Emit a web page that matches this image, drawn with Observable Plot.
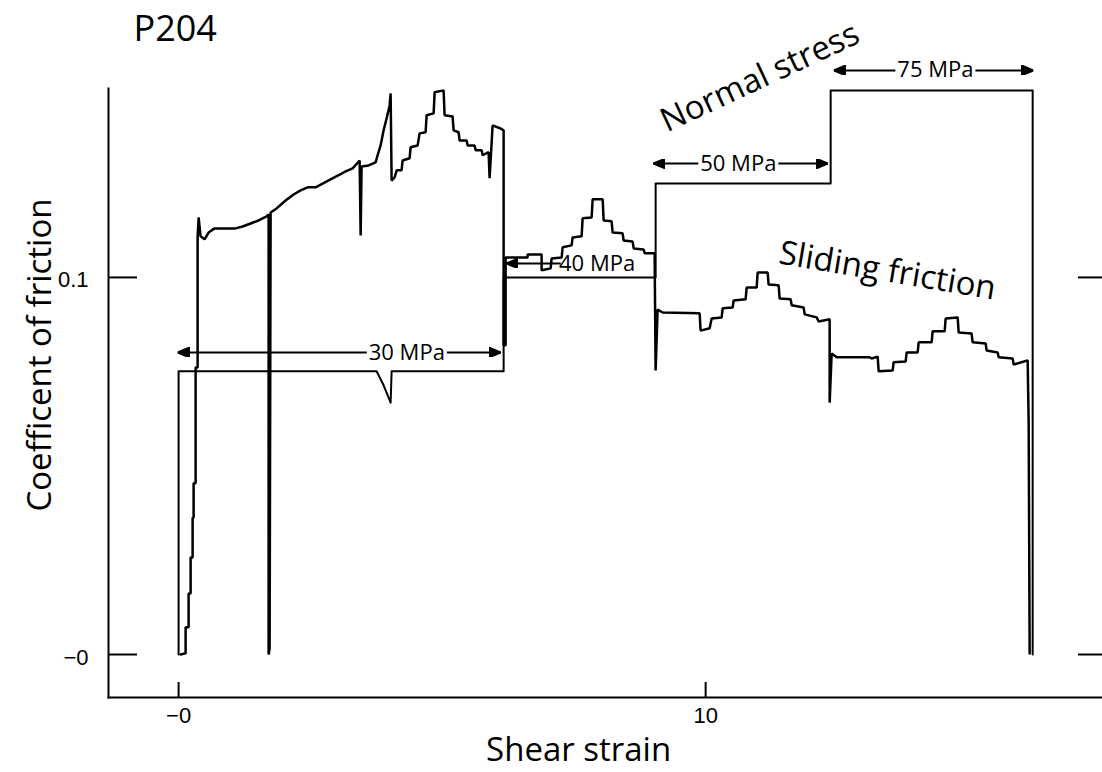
<!DOCTYPE html>
<html>
<head>
<meta charset="utf-8">
<script src="https://cdn.jsdelivr.net/npm/d3@7"></script>
<script src="https://cdn.jsdelivr.net/npm/@observablehq/plot@0.6"></script>
<style>
  html, body { margin: 0; padding: 0; background: #fff; }
  #chart { width: 1102px; height: 772px; }
</style>
</head>
<body>
<div id="chart"></div>
<script>
// Run P204: coefficient of friction against shear strain, with the applied normal stress steps.

// Sliding friction record
const frictionStrain = [
  0.038, 0.133, 0.133, 0.190, 0.190, 0.228, 0.228, 0.266, 0.266, 0.285, 0.285, 0.323, 0.323, 0.361, 0.361, 0.380,
  0.417, 0.493, 0.569, 0.683, 1.082, 1.214, 1.366, 1.518, 1.670, 1.708, 1.708, 1.727, 1.746, 1.860, 2.030, 2.182,
  2.315, 2.448, 2.600, 2.732, 2.884, 3.036, 3.169, 3.302, 3.435, 3.454, 3.472, 3.605, 3.738, 3.776, 3.833, 3.890,
  3.947, 4.004, 4.023, 4.042, 4.099, 4.137, 4.231, 4.250, 4.383, 4.402, 4.535, 4.573, 4.687, 4.706, 4.839, 4.858,
  5.028, 5.047, 5.199, 5.218, 5.313, 5.332, 5.465, 5.484, 5.617, 5.636, 5.750, 5.769, 5.882, 5.901, 5.958, 6.110,
  6.167, 6.167, 6.205, 6.205, 6.622, 6.622, 6.888, 6.888, 7.059, 7.078, 7.268, 7.287, 7.457, 7.476, 7.647, 7.666,
  7.837, 7.856, 8.046, 8.065, 8.216, 8.235, 8.425, 8.444, 8.615, 8.634, 8.824, 8.843, 9.032, 9.051, 9.089, 9.184,
  9.886, 9.905, 10.076, 10.114, 10.304, 10.323, 10.512, 10.531, 10.759, 10.778, 10.968, 10.987, 11.176, 11.195, 11.385, 11.404,
  11.613, 11.632, 11.860, 11.879, 12.106, 12.144, 12.353, 12.353, 12.391, 12.486, 13.112, 13.150, 13.264, 13.283, 13.548, 13.567,
  13.795, 13.814, 14.023, 14.042, 14.288, 14.307, 14.535, 14.554, 14.782, 14.801, 15.047, 15.066, 15.313, 15.332, 15.541, 15.560,
  15.825, 15.844, 16.110, 16.129, 16.148
];
const frictionCoef = [
  0.0000, 0.0003, 0.0072, 0.0072, 0.0162, 0.0162, 0.0257, 0.0257, 0.0363, 0.0363, 0.0454, 0.0454, 0.0761, 0.0761, 0.1106, 0.1159,
  0.1109, 0.1101, 0.1119, 0.1130, 0.1130, 0.1135, 0.1143, 0.1151, 0.1162, 0.1167, 0.0000, 0.0016, 0.1172, 0.1183, 0.1204, 0.1220,
  0.1231, 0.1239, 0.1239, 0.1249, 0.1260, 0.1271, 0.1281, 0.1289, 0.1310, 0.1111, 0.1294, 0.1297, 0.1305, 0.1324, 0.1350, 0.1390,
  0.1422, 0.1456, 0.1488, 0.1257, 0.1265, 0.1284, 0.1284, 0.1310, 0.1316, 0.1345, 0.1350, 0.1382, 0.1385, 0.1430, 0.1435, 0.1491,
  0.1496, 0.1430, 0.1427, 0.1390, 0.1385, 0.1363, 0.1363, 0.1350, 0.1350, 0.1337, 0.1337, 0.1324, 0.1332, 0.1263, 0.1403, 0.1395,
  0.1390, 0.0820, 0.0820, 0.1053, 0.1053, 0.1061, 0.1061, 0.1019, 0.1024, 0.1050, 0.1053, 0.1080, 0.1085, 0.1106, 0.1109, 0.1157,
  0.1159, 0.1207, 0.1207, 0.1151, 0.1149, 0.1119, 0.1117, 0.1098, 0.1095, 0.1077, 0.1074, 0.1064, 0.1064, 0.0753, 0.0915, 0.0907,
  0.0905, 0.0859, 0.0865, 0.0891, 0.0894, 0.0918, 0.0920, 0.0939, 0.0942, 0.0973, 0.0973, 0.1013, 0.1013, 0.0981, 0.0979, 0.0944,
  0.0942, 0.0926, 0.0920, 0.0902, 0.0894, 0.0883, 0.0889, 0.0668, 0.0798, 0.0788, 0.0788, 0.0785, 0.0790, 0.0751, 0.0753, 0.0775,
  0.0777, 0.0801, 0.0801, 0.0828, 0.0828, 0.0857, 0.0857, 0.0891, 0.0894, 0.0854, 0.0851, 0.0828, 0.0825, 0.0806, 0.0801, 0.0788,
  0.0785, 0.0769, 0.0780, 0.0613, 0.0003
];

// Normal stress steps (scaled onto the friction axis)
const stressStrain = [0, 0, 3.757, 3.890, 4.023, 4.042, 6.167, 6.167, 9.051, 9.051, 12.372, 12.372, 16.205, 16.205];
const stressLevel  = [0, 0.0751, 0.0751, 0.0714, 0.0668, 0.0751, 0.0751, 0.1000, 0.1000, 0.1249, 0.1249, 0.1496, 0.1496, 0];

// Stress step annotations
const stressLabels  = ["30 MPa", "40 MPa", "50 MPa", "75 MPa"];
const arrowFrom     = [-0.02, 6.22, 9.01, 12.43];
const arrowTo       = [6.11, 7.25, 12.32, 16.22];
const arrowLevel    = [0.0801, 0.1037, 0.1302, 0.1549];
const labelStrain   = [4.33, 7.94, 10.62, 14.36];
const arrowBothEnds = [true, false, true, true];

// Axis ticks
const xTicks = [0, 10];
const xTickLabels = ["−0", "10"];
const yTicks = [0, 0.1];
const yTickLabels = ["−0", "0.1"];

const friction = frictionStrain.map((s, i) => ({strain: s, mu: frictionCoef[i]}));
const stress = stressStrain.map((s, i) => ({strain: s, mu: stressLevel[i]}));

const W = 1102, H = 772;
const mL = 108, mR = 0, mT = 88, mB = 75;
const frameW = W - mL - mR, frameH = H - mT - mB;
const xDomain = [-1.33, 17.53];
const yDomain = [-0.0114, 0.1501];
const strainPerPx = (xDomain[1] - xDomain[0]) / frameW;
const labelGap = 40 * strainPerPx; // half-width of the break in an arrow around its label

// Each arrow is split around its label; one-sided arrows end before the label
const arrowSegments = [];
stressLabels.forEach((label, i) => {
  if (arrowBothEnds[i]) {
    arrowSegments.push({x1: arrowFrom[i], x2: labelStrain[i] - labelGap, y: arrowLevel[i], head: "start"});
    arrowSegments.push({x1: labelStrain[i] + labelGap, x2: arrowTo[i], y: arrowLevel[i], head: "end"});
  } else {
    arrowSegments.push({x1: arrowFrom[i], x2: arrowTo[i], y: arrowLevel[i], head: "start"});
  }
});
const arrowLabels = stressLabels.map((label, i) => ({label, x: labelStrain[i], y: arrowLevel[i]}));

// Solid triangular arrowhead marker
function solidHead(orient) {
  return (color, context) => {
    const ns = "http://www.w3.org/2000/svg";
    const doc = context.document;
    const m = doc.createElementNS(ns, "marker");
    m.setAttribute("viewBox", "-12 -5 12 10");
    m.setAttribute("markerUnits", "userSpaceOnUse");
    m.setAttribute("markerWidth", 12);
    m.setAttribute("markerHeight", 10);
    m.setAttribute("refX", 0);
    m.setAttribute("refY", 0);
    m.setAttribute("orient", orient);
    const p = doc.createElementNS(ns, "path");
    p.setAttribute("d", "M0,0L-12,-5L-12,5Z");
    p.setAttribute("fill", color);
    m.appendChild(p);
    return m;
  };
}

const labelFont = "'Open Sans', sans-serif";
const tickFont = "'Liberation Sans', Arial, sans-serif";

const chart = Plot.plot({
  width: W,
  height: H,
  marginLeft: mL, marginRight: mR, marginTop: mT, marginBottom: mB,
  x: {domain: xDomain, axis: null},
  y: {domain: yDomain, axis: null},
  style: {background: "white", overflow: "visible", color: "black"},
  marks: [
    // axis lines
    Plot.frame({anchor: "left", strokeWidth: 2}),
    Plot.frame({anchor: "bottom", strokeWidth: 2}),
    // inward ticks
    Plot.ruleY(yTicks, {insetRight: frameW - 29, strokeWidth: 2}),
    Plot.ruleY(yTicks, {insetLeft: frameW - 24, strokeWidth: 2}),
    Plot.ruleX(xTicks, {insetTop: frameH - 15, strokeWidth: 2}),
    Plot.text(xTicks, {x: (d) => d, text: (d, i) => xTickLabels[i], frameAnchor: "bottom", dy: 25,
      fontSize: 22, fontFamily: tickFont}),
    Plot.text(yTicks, {y: (d) => d, text: (d, i) => yTickLabels[i], frameAnchor: "left", textAnchor: "end",
      dx: -20, dy: 3, fontSize: 22, fontFamily: tickFont}),

    // normal stress
    Plot.line(stress, {x: "strain", y: "mu", strokeWidth: 2, curve: "linear"}),

    // stress step arrows and labels
    Plot.link(arrowSegments.filter((d) => d.head === "start"), {x1: "x1", x2: "x2", y1: "y", y2: "y", strokeWidth: 2,
      markerStart: solidHead("auto-start-reverse")}),
    Plot.link(arrowSegments.filter((d) => d.head === "end"), {x1: "x1", x2: "x2", y1: "y", y2: "y", strokeWidth: 2,
      markerEnd: solidHead("auto")}),
    Plot.text(arrowLabels, {x: "x", y: "y", text: "label", fontSize: 22, fontFamily: labelFont}),

    // sliding friction
    Plot.line(friction, {x: "strain", y: "mu", strokeWidth: 2.5, curve: "linear", strokeLinejoin: "miter"}),

    // annotations
    Plot.text(["Normal stress"], {x: 11.03, y: 0.1530, rotate: -25, fontSize: 33, fontFamily: labelFont}),
    Plot.text(["Sliding friction"], {x: 13.45, y: 0.1017, rotate: 9.5, fontSize: 33, fontFamily: labelFont}),
    Plot.text(["P204"], {frameAnchor: "top-left", dx: 25, dy: -48, textAnchor: "start", lineAnchor: "bottom",
      fontSize: 36, fontFamily: labelFont}),
    Plot.text(["Shear strain"], {x: 7.59, frameAnchor: "bottom", dy: 63, lineAnchor: "bottom",
      fontSize: 33, fontFamily: labelFont}),
    Plot.text(["Coefficent of friction"], {frameAnchor: "left", dx: -58, dy: -38, rotate: -90,
      textAnchor: "middle", lineAnchor: "bottom", fontSize: 33, fontFamily: labelFont})
  ]
});

document.getElementById("chart").appendChild(chart);
</script>
</body>
</html>
